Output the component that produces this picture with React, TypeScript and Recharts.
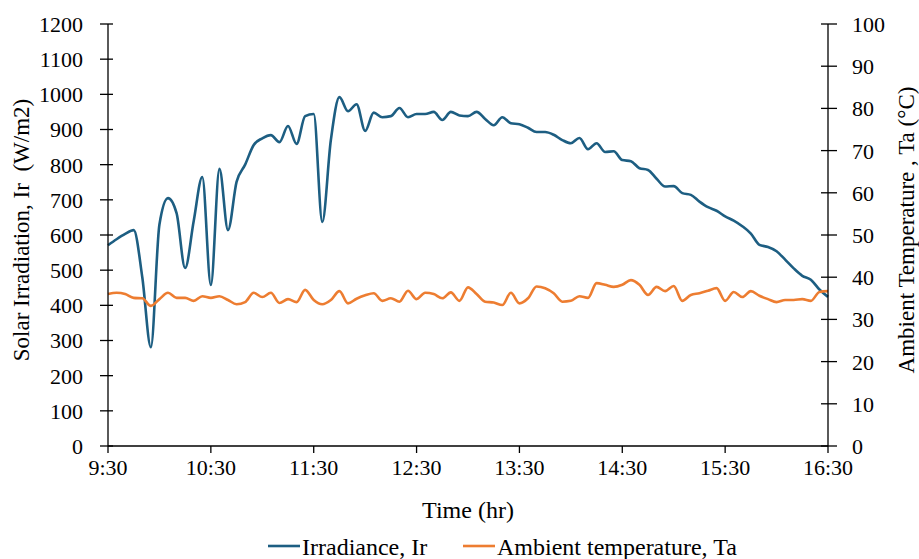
import React from 'react';
import { LineChart, Line, XAxis, YAxis } from 'recharts';

// Time of each sample, in minutes after 9:30 (one sample every 5 minutes)
const sampleMinutes: number[] = Array.from({ length: 85 }, (_, i) => i * 5);

const irradiance: number[] = [
  571, 588, 603, 614, 480, 281, 630, 705, 662, 506,
  640, 765, 458, 788, 614, 751, 800, 856, 875, 884,
  864, 910, 859, 938, 944, 637, 870, 992, 952, 972,
  896, 948, 935, 938, 961, 935, 944, 944, 950, 927,
  950, 940, 938, 950, 930, 912, 935, 918, 915, 905,
  893, 893, 885, 870, 861, 876, 844, 861, 836, 838,
  813, 810, 790, 785, 760, 738, 739, 719, 714, 695,
  679, 669, 653, 641, 625, 604, 572, 566, 554, 530,
  505, 484, 473, 445, 424,
];

const ambientTemp: number[] = [
  36.0, 36.3, 36.0, 35.1, 35.0, 33.2, 34.8, 36.3, 35.1, 35.1,
  34.4, 35.5, 35.1, 35.5, 34.6, 33.6, 34.1, 36.3, 35.3, 36.3,
  33.9, 34.8, 34.1, 37.0, 34.6, 33.6, 34.6, 36.7, 33.8, 34.9,
  35.7, 36.2, 34.4, 35.0, 34.2, 36.8, 34.8, 36.3, 36.0, 35.0,
  36.4, 34.4, 37.6, 36.0, 34.2, 34.0, 33.4, 36.3, 33.8, 35.0,
  37.8, 37.4, 36.2, 34.2, 34.4, 35.5, 35.1, 38.6, 38.2, 37.7,
  38.2, 39.3, 38.2, 35.8, 37.7, 36.7, 37.9, 34.4, 35.8, 36.2,
  36.8, 37.4, 34.4, 36.5, 35.3, 36.7, 35.6, 34.8, 34.1, 34.6,
  34.6, 34.8, 34.4, 36.5, 36.7,
];

const xTickValues: number[] = [0, 60, 120, 180, 240, 300, 360, 420];
const xTickLabels: string[] = ['9:30', '10:30', '11:30', '12:30', '13:30', '14:30', '15:30', '16:30'];
const leftTicks: number[] = [0, 100, 200, 300, 400, 500, 600, 700, 800, 900, 1000, 1100, 1200];
const rightTicks: number[] = [0, 10, 20, 30, 40, 50, 60, 70, 80, 90, 100];

const data = sampleMinutes.map((t, i) => ({ t, ir: irradiance[i], ta: ambientTemp[i] }));

const FONT = '"Liberation Serif", "Times New Roman", serif';
const BLUE = '#1D5E82';
const ORANGE = '#ED7D31';

const L_TICK = 8;
const L_MARGIN = 17;
const R_TICK = 9;
const R_MARGIN = 15;

const textStyle = { fontFamily: FONT, fill: '#000' };

const YTick = (props: any) => {
  const { x, y, payload, side } = props;
  const isLeft = side === 'left';
  const axisX = isLeft ? x + L_TICK + L_MARGIN : x - R_TICK - R_MARGIN;
  const x1 = isLeft ? axisX - 8 : axisX - 7;
  const x2 = isLeft ? axisX + 5 : axisX + 9;
  return (
    <g>
      <line x1={x1} x2={x2} y1={y} y2={y} stroke="#000" strokeWidth={1.3} />
      <text
        x={x}
        y={y}
        dy="0.36em"
        textAnchor={isLeft ? 'end' : 'start'}
        style={{ ...textStyle, fontSize: 22 }}
      >
        {payload.value}
      </text>
    </g>
  );
};

const XTick = (props: any) => {
  const { x, y, payload } = props;
  return (
    <text x={x} y={y} dy="0.75em" textAnchor="middle" style={{ ...textStyle, fontSize: 22 }}>
      {xTickLabels[xTickValues.indexOf(payload.value)]}
    </text>
  );
};

export default function App() {
  return (
    <div style={{ position: 'absolute', left: 0, top: 0, width: 919, height: 559, background: '#fff' }}>
      <LineChart
        width={919}
        height={559}
        data={data}
        margin={{ top: 24, right: 0, bottom: 0, left: 0 }}
        style={{ fontFamily: FONT }}
      >
        <XAxis
          dataKey="t"
          type="number"
          domain={[0, 420]}
          ticks={xTickValues}
          height={113}
          tickSize={7}
          tickMargin={5}
          axisLine={{ stroke: '#000', strokeWidth: 1.3 }}
          tickLine={{ stroke: '#000', strokeWidth: 1.3 }}
          tick={(p: any) => <XTick {...p} />}
          label={{
            value: 'Time (hr)',
            position: 'insideBottom',
            offset: 41,
            style: { ...textStyle, fontSize: 24 },
          }}
        />
        <YAxis
          yAxisId="ir"
          orientation="left"
          width={108}
          domain={[0, 1200]}
          ticks={leftTicks}
          interval={0}
          tickSize={L_TICK}
          tickMargin={L_MARGIN}
          tickLine={false}
          axisLine={{ stroke: '#000', strokeWidth: 1.3 }}
          tick={(p: any) => <YTick {...p} side="left" />}
          label={{
            value: 'Solar Irradiation, Ir\u00A0 (W/m2)',
            angle: -90,
            position: 'insideLeft',
            offset: 21,
            dy: -5,
            style: { ...textStyle, textAnchor: 'middle', fontSize: 23 },
          }}
        />
        <YAxis
          yAxisId="ta"
          orientation="right"
          width={91}
          domain={[0, 100]}
          ticks={rightTicks}
          interval={0}
          tickSize={R_TICK}
          tickMargin={R_MARGIN}
          tickLine={false}
          axisLine={{ stroke: '#000', strokeWidth: 1.3 }}
          tick={(p: any) => <YTick {...p} side="right" />}
          label={{
            value: 'Ambient Temperature , Ta (\u00B0C)',
            angle: -90,
            position: 'insideRight',
            offset: 13,
            dy: -5,
            style: { ...textStyle, textAnchor: 'middle', fontSize: 23 },
          }}
        />
        <Line
          yAxisId="ir"
          type="monotone"
          dataKey="ir"
          stroke={BLUE}
          strokeWidth={2.6}
          dot={false}
          isAnimationActive={false}
        />
        <Line
          yAxisId="ta"
          type="monotone"
          dataKey="ta"
          stroke={ORANGE}
          strokeWidth={2.6}
          dot={false}
          isAnimationActive={false}
        />
      </LineChart>
      <svg
        width={919}
        height={31}
        style={{ position: 'absolute', left: 0, top: 528 }}
      >
        <line x1={268} x2={300} y1={18} y2={18} stroke={BLUE} strokeWidth={2.6} />
        <text x={302} y={26.5} style={{ ...textStyle, fontSize: 24 }}>
          Irradiance, Ir
        </text>
        <line x1={463} x2={495} y1={18} y2={18} stroke={ORANGE} strokeWidth={2.6} />
        <text x={497} y={26.5} style={{ ...textStyle, fontSize: 24 }}>
          Ambient temperature, Ta
        </text>
      </svg>
    </div>
  );
}
